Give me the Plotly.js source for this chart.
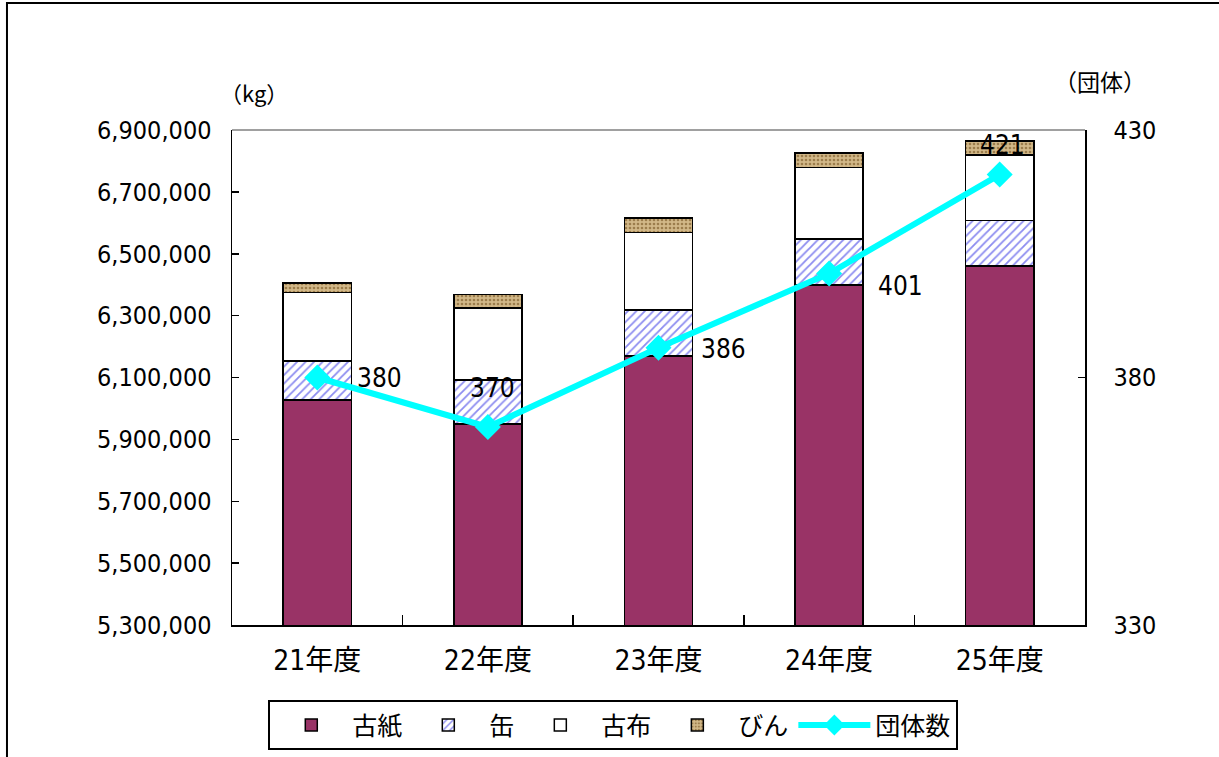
<!DOCTYPE html>
<html>
<head>
<meta charset="utf-8">
<script src="https://cdn.plot.ly/plotly-3.0.1.min.js"></script>
<style>html,body{margin:0;padding:0;background:#fff;}#chart{width:1219px;height:757px;}</style>
</head>
<body>
<div id="chart"></div>
<script>
// Data
const categories = ['21年度', '22年度', '23年度', '24年度', '25年度'];
const kosi   = [6027000, 5949000, 6170000, 6399000, 6460000]; // 古紙
const kan    = [126000, 143000, 148000, 149000, 147000];       // 缶
const kofu   = [221000, 232000, 250000, 231000, 212000];       // 古布
const bin    = [32000, 45000, 47000, 46000, 45000];            // びん
const dantai = [380, 370, 386, 401, 421];                      // 団体数
const leftTicks = [5300000, 5500000, 5700000, 5900000, 6100000, 6300000, 6500000, 6700000, 6900000];
const rightTicks = [330, 380, 430];

// label offsets (style only)
const labelStyle = [
  {xanchor: 'left', xshift: 38, yshift: 0},
  {xanchor: 'center', xshift: 5, yshift: 39},
  {xanchor: 'left', xshift: 40, yshift: -1},
  {xanchor: 'left', xshift: 47, yshift: -12},
  {xanchor: 'center', xshift: 3, yshift: 30}
];

const FONT = '"DejaVu Sans Condensed", "DejaVu Sans", "Noto Sans CJK JP", sans-serif';
const barLine = {color: '#000', width: 1.5};

const traces = [
  {type: 'bar', name: '古紙', x: categories, y: kosi,
   marker: {color: '#993366', line: barLine}},
  {type: 'bar', name: '缶', x: categories, y: kan,
   marker: {color: '#ffffff', line: barLine,
            pattern: {shape: '/', fgcolor: '#8c8cf0', bgcolor: '#ffffff', size: 6, solidity: 0.3, fillmode: 'replace'}}},
  {type: 'bar', name: '古布', x: categories, y: kofu,
   marker: {color: '#ffffff', line: barLine}},
  {type: 'bar', name: 'びん', x: categories, y: bin,
   marker: {color: '#c9ab78', line: barLine,
            pattern: {shape: '.', fgcolor: '#9c7d4c', bgcolor: '#d2b888', size: 4, solidity: 0.35, fillmode: 'replace'}}},
  {type: 'scatter', mode: 'lines+markers', name: '団体数', x: categories, y: dantai, yaxis: 'y2',
   line: {color: '#00ffff', width: 6},
   marker: {symbol: 'diamond', size: 20, color: '#00ffff'}}
];

const annotations = dantai.map((v, i) => ({
  x: categories[i], y: v, xref: 'x', yref: 'y2', text: String(v), showarrow: false,
  xanchor: labelStyle[i].xanchor, yanchor: 'middle',
  xshift: labelStyle[i].xshift, yshift: labelStyle[i].yshift,
  font: {family: FONT, size: 26, color: '#000'}
}));
annotations.push({xref: 'paper', yref: 'paper', x: -0.016, y: 1.04, xanchor: 'left', yanchor: 'bottom',
  text: '（kg）', showarrow: false, font: {family: '"Noto Sans CJK JP", sans-serif', size: 22, color: '#000'}});
annotations.push({xref: 'paper', yref: 'paper', x: 1.018, y: 1.06, xanchor: 'center', yanchor: 'bottom',
  text: '（団体）', showarrow: false, font: {family: '"Noto Sans CJK JP", sans-serif', size: 23, color: '#000'}});

const layout = {
  width: 1219, height: 757,
  margin: {l: 232, r: 134, t: 130, b: 132, autoexpand: false},
  paper_bgcolor: '#ffffff', plot_bgcolor: '#ffffff',
  barmode: 'stack', bargap: 0.6,
  showlegend: true,
  font: {family: FONT, color: '#000'},
  xaxis: {
    type: 'category', showline: true, linecolor: '#000', linewidth: 1.5, automargin: false,
    ticks: 'inside', tickson: 'boundaries', ticklen: 10, tickcolor: '#000', tickwidth: 1.5,
    tickfont: {family: FONT, size: 28, color: '#000'}, ticklabelstandoff: 10,
    showgrid: false, zeroline: false
  },
  yaxis: {
    range: [5300000, 6900000], tickvals: leftTicks, tickformat: ',d', automargin: false,
    showline: true, linecolor: '#000', linewidth: 1.5,
    ticks: 'inside', ticklen: 7, tickcolor: '#000', tickwidth: 1.5,
    tickfont: {family: FONT, size: 25, color: '#000'}, ticklabelstandoff: 14,
    showgrid: false, zeroline: false
  },
  yaxis2: {
    overlaying: 'y', side: 'right', range: [330, 430], tickvals: rightTicks, automargin: false,
    showline: true, linecolor: '#000', linewidth: 1.5,
    ticks: 'inside', ticklen: 7, tickcolor: '#000', tickwidth: 1.5,
    tickfont: {family: FONT, size: 25, color: '#000'}, ticklabelstandoff: 22,
    showgrid: false, zeroline: false
  },
  legend: {
    orientation: 'h', x: 0.447, xanchor: 'center', y: -0.152, yanchor: 'top',
    traceorder: 'normal', bordercolor: '#000', borderwidth: 2, bgcolor: '#fff',
    font: {family: '"Noto Sans CJK JP", sans-serif', size: 25, color: '#000'}, itemwidth: 72
  },
  shapes: [
    {type: 'line', xref: 'paper', yref: 'paper', x0: 0, x1: 1, y0: 1, y1: 1, line: {color: '#808080', width: 1.5}},
    {type: 'rect', xref: 'paper', yref: 'paper', x0: -0.2638, x1: 1.2, y0: -0.3, y1: 1.2566, line: {color: '#000', width: 2}}
  ],
  annotations: annotations
};

Plotly.newPlot('chart', traces, layout, {displayModeBar: false, staticPlot: true});
</script>
</body>
</html>
